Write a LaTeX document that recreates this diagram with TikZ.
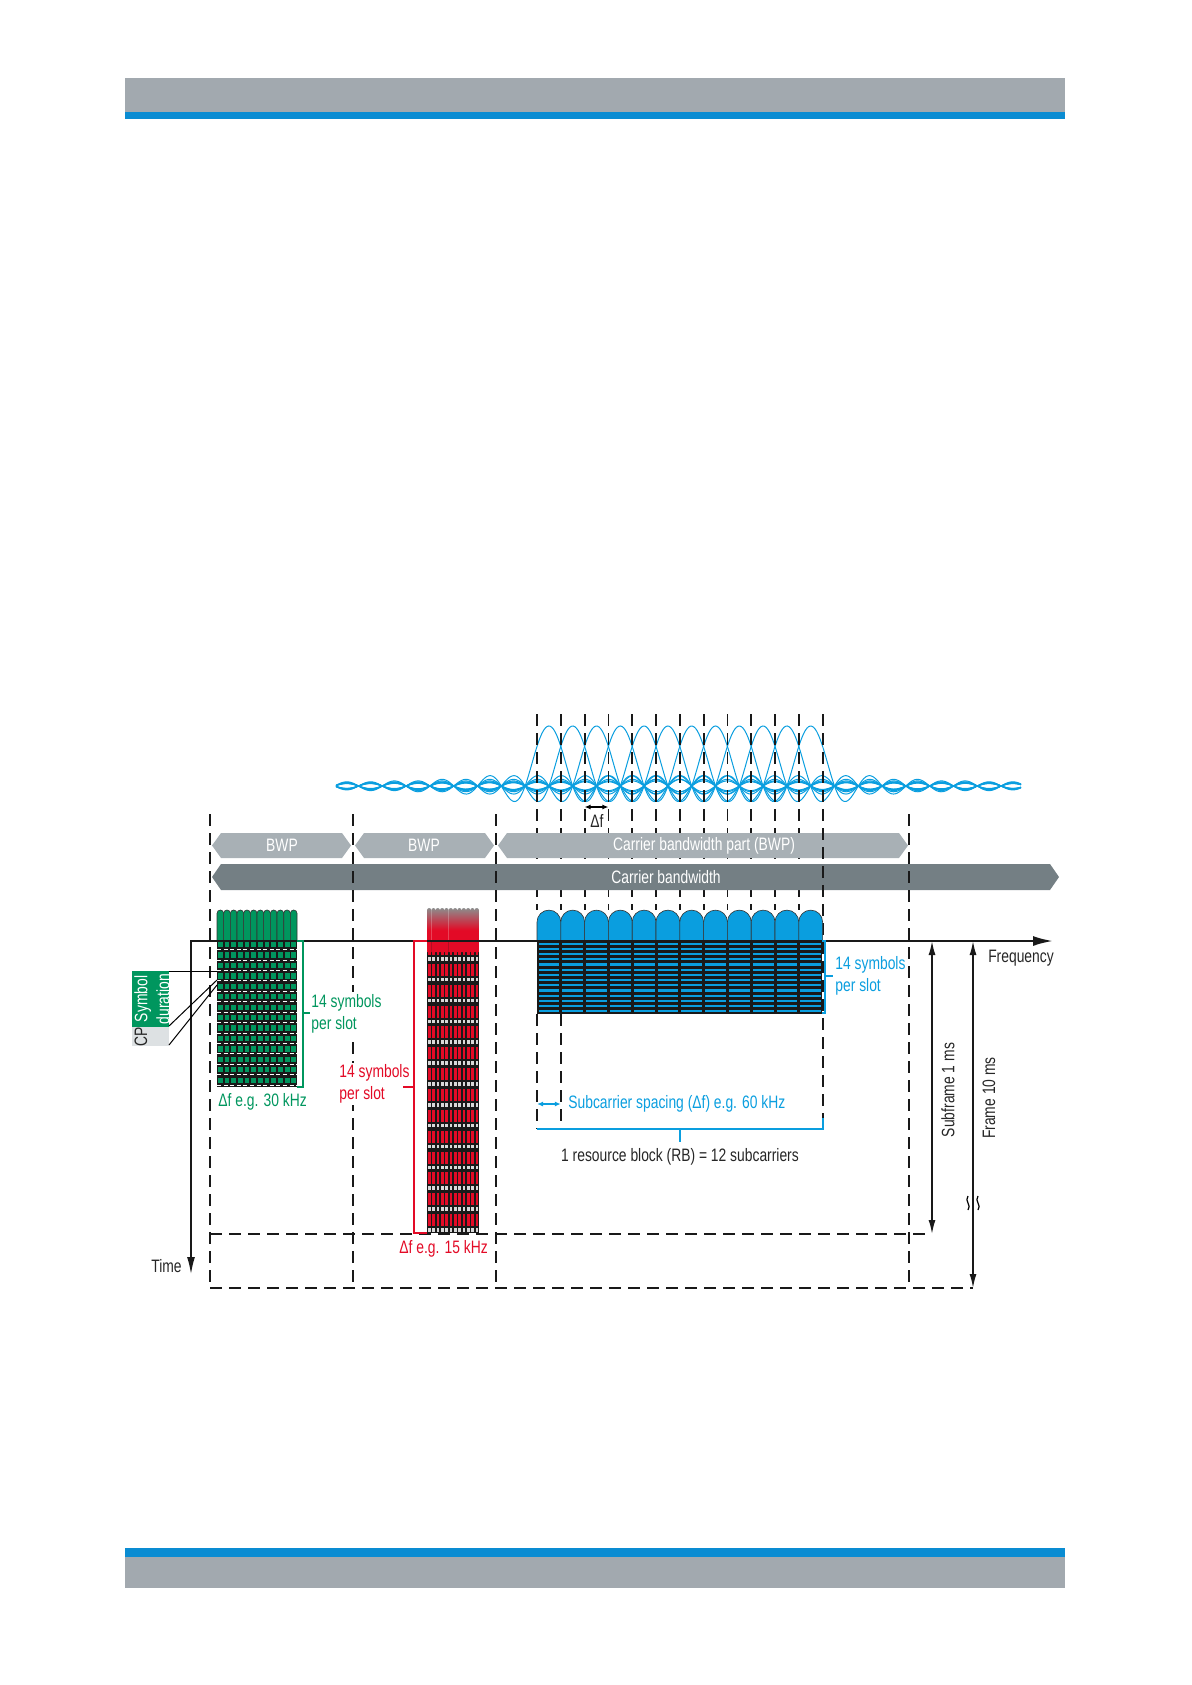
\documentclass[tikz,border=0pt]{standalone}
\usepackage{fontspec}
\setmainfont{Liberation Sans}[FakeStretch=0.77]
\usepackage{tikz}
\usetikzlibrary{arrows.meta,positioning,calc}
\definecolor{nrblue}{HTML}{0A9EDF}
\definecolor{nrhead}{HTML}{0A8CD2}
\definecolor{nrgreen}{HTML}{00965E}
\definecolor{nrred}{HTML}{E30A26}
\definecolor{nrlight}{HTML}{A8B0B5}
\definecolor{nrdark}{HTML}{747F84}
\definecolor{nrgray}{HTML}{A2A9AF}
\definecolor{nrcp}{HTML}{DDE1E3}
\tikzset{
  nrdash/.style={dash pattern=on 6pt off 3.5pt, line width=0.9pt, draw=black!90},
  nrtext/.style={font=\fontsize{9}{11}\selectfont, inner sep=0pt, align=left, text=black!85},
  nrbg/.style={fill=white, inner sep=1pt},
  nraxis/.style={line width=1.1pt, draw=black!90},
  nrdim/.style={line width=0.8pt, draw=black!90, {Latex[length=7pt,width=3.5pt]}-{Latex[length=7pt,width=3.5pt]}},
  nrbracket/.style={line width=1pt},
  nrwave/.style={draw=nrblue, line width=0.5pt},
  nrhump/.style={draw=black!80, line width=0.3pt},
  declare function={sincw(\u)=(abs(\u)<0.02)?1:(sin(180*abs(\u))/(pi*max(abs(\u),0.02))*(1+1.2*\u*\u)^0.14);}
}
\begin{document}
\begin{tikzpicture}[x=0.5pt, y=-0.5pt]
  \useasboundingbox (0,0) rectangle (1192,1685);
  \fill[nrgray] (125,78) rectangle (1065,112);
  \fill[nrhead] (125,112) rectangle (1065,119);
  \fill[nrhead] (125,1548) rectangle (1065,1557);
  \fill[nrgray] (125,1557) rectangle (1065,1588);

  \foreach \k in {0,...,11}{
    \pgfmathsetmacro\sc{548.9+23.8*\k}
    \draw[nrwave] plot[domain=336:1021, samples=420] (\x,{786-60*sincw((\x-\sc)/23.8)});
  }
  \foreach \k in {0,...,12}{
    \coordinate (sc\k) at ({537+23.8*\k},714);
    \draw[nrdash] (sc\k) -- ++(0,196);
  }
  \draw[line width=0.6pt, {Latex[length=3pt,width=2.5pt]}-{Latex[length=3pt,width=2.5pt]}]
    ($(sc2)+(0,93)$) -- ($(sc3)+(0,93)$);
  \node[nrtext] (df) at (597,821) {Δf};

  \foreach \a/\b in {212/351, 355/494, 498/908}
    \fill[nrlight] (\a,845.5) -- ({\a+9},833) -- ({\b-9},833) -- (\b,845.5) -- ({\b-9},858) -- ({\a+9},858) -- cycle;
  \fill[nrdark] (212,877) -- (221,864) -- (1050,864) -- (1059,877) -- (1050,890) -- (221,890) -- cycle;
  \node[nrtext, text=white] (bwpA) at (282,845.5) {BWP};
  \node[nrtext, text=white] (bwpB) at (424,845.5) {BWP};
  \node[nrtext, text=white] (bwpC) at (704,845.5) {Carrier bandwidth part (BWP)};
  \node[nrtext, text=white] (cbw) at (666,877) {Carrier bandwidth};

  \foreach \k/\xx in {0/210, 1/353, 2/496, 3/909}{
    \coordinate (bw\k) at (\xx,814);
    \draw[nrdash] (bw\k) -- ++(0,474);
  }
  \draw[nrdash] (sc12) -- ++(0,415);
  \draw[nrdash] ($(sc0)+(0,300)$) -- ++(0,115);
  \draw[nrdash] ($(sc1)+(0,300)$) -- ++(0,115);

  % 30 kHz
  \fill[black!90] (217,941) rectangle (297,1087);
  \foreach \r in {0,...,13}{
    \foreach \i in {0,...,11}
      \fill[nrgreen] ({218+6.67*\i},{942+10.43*\r}) rectangle ++(4.8,5.2);
    \draw[white, line width=0.4pt, dash pattern=on 2pt off 1.3pt] (217,{949.5+10.43*\r}) -- ++(80,0);
  }
  \foreach \i in {0,...,11}
    \filldraw[nrhump, fill=nrgreen] ({217+6.67*\i},941) -- ++(0,-27.7)
      arc[start angle=180, end angle=360, radius=3.33] -- ({217+6.67*(\i+1)},941) -- cycle;

  % 15 kHz
  \fill[black!90] (427,941) rectangle (479,1233);
  \foreach \r in {0,...,13}
    \foreach \i in {0,...,11}{
      \fill[nrred] ({428+4.33*\i},{943+20.86*\r}) rectangle ++(2.6,12);
      \fill[black!15] ({428+4.33*\i},{957+20.86*\r}) rectangle ++(2.6,3.5);
    }
  \foreach \i in {0,...,11}
    \shade[top color=black!45, bottom color=nrred, middle color=nrred] ({427+4.33*\i},952) -- ++(0,-41.8)
      arc[start angle=180, end angle=360, radius=2.165] -- ({427+4.33*(\i+1)},952) -- cycle;

  % 60 kHz
  \fill[black!90] (537,941) rectangle (822,1014);
  \foreach \r in {0,...,13}
    \foreach \i in {0,...,11}
      \fill[nrblue] ({538.5+23.8*\i},{942.5+5.2*\r}) rectangle ++(20.8,2.2);
  \foreach \i in {0,...,11}
    \filldraw[nrhump, fill=nrblue] ({537+23.8*\i},941) -- ++(0,-19)
      arc[start angle=180, end angle=360, radius=11.9] -- ({537+23.8*(\i+1)},941) -- cycle;

  \coordinate (orig) at (191,941);
  \coordinate (tend) at (191,1275);
  \coordinate (fend) at (1053,941);
  \draw[nraxis, {Latex[length=9pt,width=4pt]}-{Latex[length=10pt,width=5pt]}] (tend) -- (orig) -- (fend);
  \node[nrtext, anchor=east] (lblTime) at (182,1266) {Time};
  \node[nrtext] (lblFreq) at (1021,958) {Frequency};

  \coordinate (sfTop) at (932,941);
  \coordinate (sfBot) at (932,1234);
  \coordinate (frTop) at (973,941);
  \coordinate (frBot) at (973,1288);
  \draw[nrdash] (bw0 |- sfBot) -- (sfBot);
  \draw[nrdash] (bw0 |- frBot) -- (frBot);
  \draw[nrdim] (sfTop) -- (sfBot);
  \draw[nrdim] (frTop) -- (frBot);
  \draw[line width=0.6pt] (968,1196) .. controls (964,1201) and (972,1205) .. (968,1210);
  \draw[line width=0.6pt] (978,1196) .. controls (974,1201) and (982,1205) .. (978,1210);
  \node[nrtext, rotate=90] (lblSub) at (948,1090) {Subframe 1 ms};
  \node[nrtext, rotate=90] (lblFrame) at (989,1098) {Frame 10 ms};

  \node[nrtext, nrbg, text=nrgreen, anchor=west] (symG) at (309,1013.5) {14 symbols\\per slot};
  \node[nrtext, text=nrgreen, anchor=west] (dfG) at (218,1102) {Δf e.g. 30 kHz};
  \draw[nrgreen, nrbracket] (297,941) -- (303,941) -- (303,1087) -- (297,1087);
  \draw[nrgreen, nrbracket] (303,1013) -- (310,1013);

  \node[nrtext, nrbg, text=nrred, anchor=west] (symR) at (337,1084) {14 symbols\\per slot};
  \node[nrtext, text=nrred, anchor=west] (dfR) at (399,1249) {Δf e.g. 15 kHz};
  \draw[nrred, nrbracket] (427,941) -- (414,941) -- (414,1233) -- (427,1233);
  \draw[nrred, nrbracket] (414,1087) -- (403,1087);

  \draw[nrblue, nrbracket] (822,941) -- (825,941) -- (825,1013) -- (822,1013);
  \draw[nrblue, nrbracket] (825,976) -- (833,976);
  \node[nrtext, text=nrblue, anchor=west] (symB) at (835,976) {14 symbols\\per slot};
  \draw[nrblue, line width=0.6pt, {Latex[length=3pt,width=2.5pt]}-{Latex[length=3pt,width=2.5pt]}]
    ($(sc0)+(0,390)$) -- ($(sc1)+(0,390)$);
  \node[nrtext, text=nrblue, anchor=west] (lblScs) at (568,1103.5) {Subcarrier spacing (Δf) e.g. 60 kHz};
  \draw[nrblue, nrbracket] ($(sc0)+(0,415)$) -- ($(sc12)+(0,415)$) -- ++(0,-11);
  \draw[nrblue, nrbracket] (680,1129) -- (680,1142);
  \node[nrtext] (lblRb) at (680,1157) {1 resource block (RB) = 12 subcarriers};

  \fill[nrgreen] (132,971) rectangle (169,1027);
  \fill[nrcp] (132,1027) rectangle (169,1046);
  \node[nrtext, rotate=90, align=center, text=white] (symDur) at (152,999) {Symbol\\duration};
  \node[nrtext, rotate=90] (cpLbl) at (141,1036.5) {CP};
  \coordinate (cpA) at (169,971);
  \coordinate (cpB) at (169,1026);
  \coordinate (cpC) at (169,1045);
  \draw[line width=0.5pt] (cpA) -- (217,971);
  \draw[line width=0.5pt] (cpB) -- (217,980);
  \draw[line width=0.5pt] (cpC) -- (217,985);
\end{tikzpicture}
\end{document}
